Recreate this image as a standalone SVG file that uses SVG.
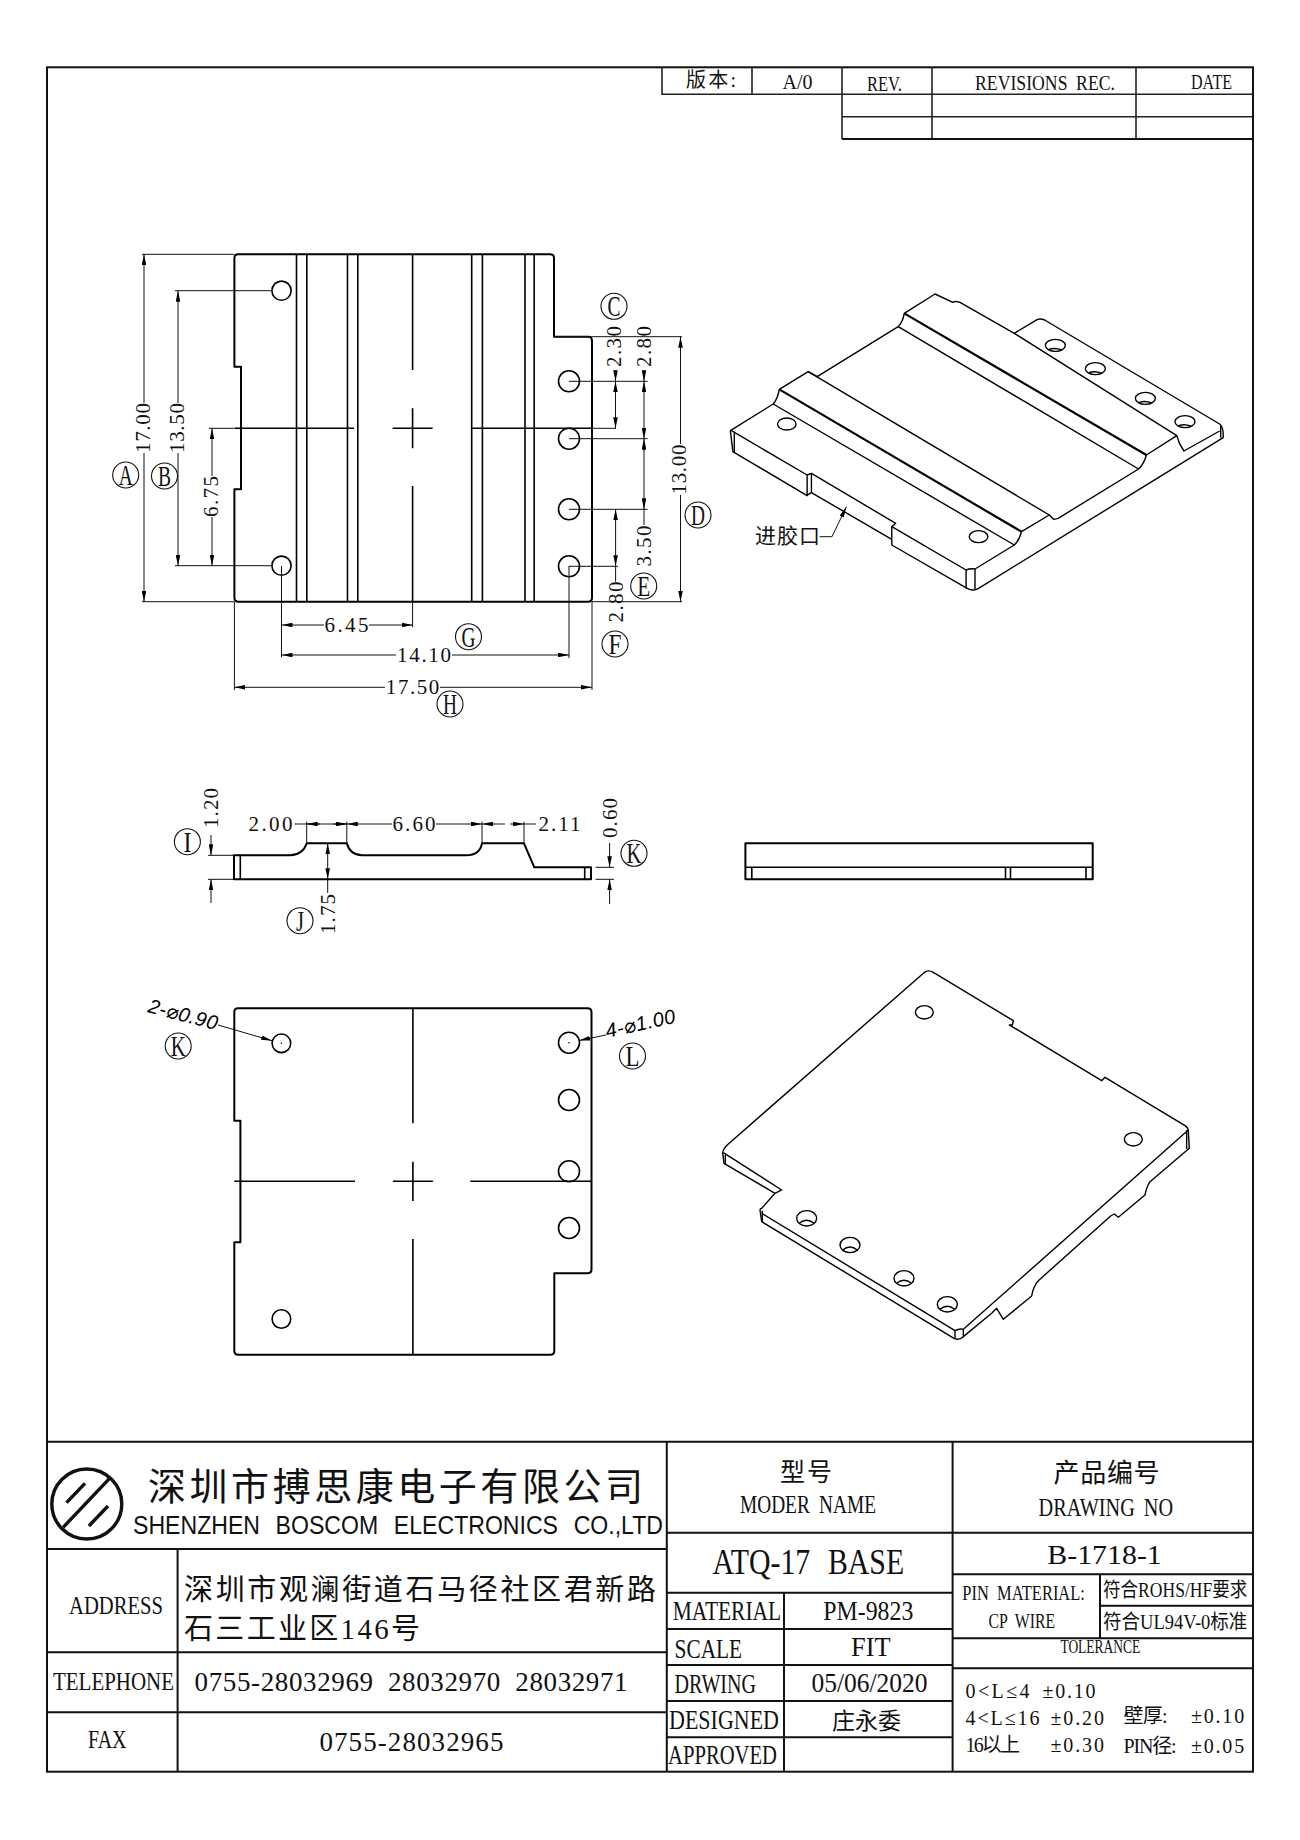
<svg xmlns="http://www.w3.org/2000/svg" width="1300" height="1840" viewBox="0 0 1300 1840">
<defs>
<marker id="ah" viewBox="0 0 11 4.6" refX="11" refY="2.3" markerWidth="11" markerHeight="4.6" markerUnits="userSpaceOnUse" orient="auto"><path d="M0 0L11 2.3L0 4.6Z" fill="#000"/></marker>
</defs>
<style>
text{font-family:"Liberation Serif","Noto Sans CJK SC",serif;fill:#111;font-size:21px}
.o{fill:none;stroke:#000;stroke-width:2;stroke-linejoin:round}
.m{fill:none;stroke:#000;stroke-width:1.6}
.d{fill:none;stroke:#111;stroke-width:1}
.a{marker-end:url(#ah)}
.i{fill:none;stroke:#000;stroke-width:1.4;stroke-linejoin:round;vector-effect:non-scaling-stroke}
.ih{fill:none;stroke:#000;stroke-width:2.2;vector-effect:non-scaling-stroke}
text.c{text-anchor:middle}
.b circle{fill:#fff;stroke:#111;stroke-width:1.1}
.b text{text-anchor:middle;font-size:29px}
.g{fill:none;stroke:#111;stroke-width:2}
.g2{fill:none;stroke:#222;stroke-width:1.6}
.sans{font-family:"Liberation Sans","Noto Sans CJK SC",sans-serif}
.ld{font-family:"Liberation Sans","DejaVu Sans",sans-serif;font-style:italic;font-size:20px;fill:#000}
</style>
<rect width="1300" height="1840" fill="#fff"/>
<rect id="border" class="g" x="47" y="67.3" width="1206" height="1704.4"/>

<g id="revision-table">
<path class="g2" d="M662 67.3V94.3H842M752 67.3V94.3M842 67.3V139M932 67.3V139M1136 67.3V139M842 94.3H1253M842 116.7H1253"/>
<path class="g" d="M842 139H1253"/>
<text x="686" y="87" style="font-size:20px" textLength="50">版本:</text>
<text x="782.5" y="89" textLength="30" lengthAdjust="spacingAndGlyphs">A/0</text>
<text x="867" y="90.7" textLength="35" lengthAdjust="spacingAndGlyphs">REV.</text>
<text x="975" y="90" style="word-spacing:5px" textLength="140" lengthAdjust="spacingAndGlyphs">REVISIONS REC.</text>
<text x="1191" y="89" textLength="41" lengthAdjust="spacingAndGlyphs">DATE</text>
</g>

<g id="top-view">
<path class="o" d="M238 254.3H550Q554 254.3 554 258V336.7H588Q592 336.7 592 341V597.7Q592 601.7 588 601.7H238.4Q234.4 601.7 234.4 597.7V489.3H241V366.7H234.4V258Q234.4 254.3 238 254.3Z"/>
<path class="m" d="M296.5 254.3V601.7M306.8 254.3V601.7M347.5 254.3V601.7M357.8 254.3V601.7M471.7 254.3V601.7M482.4 254.3V601.7M525 254.3V601.7M534.2 254.3V601.7"/>
<path class="m" d="M412.6 254.3V370M412.6 408.3V448.3M412.6 486V601.7M234.4 428.3H354M392.6 428.3H432.6M471 428.3H592"/>
<circle class="m" cx="281.5" cy="290.7" r="9.6"/>
<circle class="m" cx="281.5" cy="565.7" r="9.6"/>
<circle class="m" cx="569" cy="381.3" r="10.5"/>
<circle class="m" cx="569" cy="438.7" r="10.5"/>
<circle class="m" cx="569" cy="509.3" r="10.5"/>
<circle class="m" cx="569" cy="566.3" r="10.5"/>
</g>

<g id="connectors">
<path class="d" d="M142 254.3H234M142 601.7H234M175 290.7H272M175 565.7H272M209 428.3H234M569 381.3H647.6M569 438.7H647.6M569 509.3H647.6M569 566.3H618M592 428.3H616M554 336.7H682M592 601.7H682M281.5 566V657.3M569 566V658M412.6 601.7V627.3M234.4 601.7V690M592 601.7V690"/>
<path class="d a" d="M144 403V254.3"/><path class="d a" d="M144 453V601.7"/>
<path class="d a" d="M178 403V290.7"/><path class="d a" d="M178 453V565.7"/>
<path class="d a" d="M212 476V428.3"/><path class="d a" d="M212 517V565.7"/>
<path class="d a" d="M615.5 370V381.3"/><path class="d a" d="M615.5 405V381.3"/><path class="d a" d="M615.5 405V428.3"/>
<path class="d a" d="M644 370V381.3"/><path class="d a" d="M644 410V381.3"/><path class="d a" d="M644 410V438.7"/><path class="d a" d="M644 474V438.7"/><path class="d a" d="M644 474V509.3"/><path class="d" d="M644 509.3V525"/>
<path class="d a" d="M680.5 444V336.7"/><path class="d a" d="M680.5 495V601.7"/>
<path class="d a" d="M615.6 538V509.3"/><path class="d a" d="M615.6 538V566.3"/><path class="d" d="M615.6 566.3V581.7"/>
<path class="d a" d="M324 625H281.5"/><path class="d a" d="M369 625H412.6"/>
<path class="d a" d="M396 655H281.5"/><path class="d a" d="M452 655H569"/>
<path class="d a" d="M385 687.3H234.4"/><path class="d a" d="M440 687.3H592"/>

<path class="d" d="M208 855.3H234M208 879.3H234M595.6 867.3H614M595.6 879.3H614M306.7 821.7V843.3M346.8 821.7V843.3M482 821.7V843.3M524 821.7V843.3"/>
<path class="d a" d="M211 835V855.3"/><path class="d a" d="M211 903V879.3"/>
<path class="d" d="M294.5 824H346.8"/>
<path class="d a" d="M320 824H306.7"/><path class="d a" d="M333 824H346.8"/>
<path class="d a" d="M392 824H346.8"/><path class="d a" d="M436 824H482"/>
<path class="d a" d="M505 824H482"/><path class="d a" d="M510 824H524"/><path class="d" d="M524 824H536"/>
<path class="d a" d="M327.7 861V843.3"/><path class="d a" d="M327.7 861V879.3"/><path class="d" d="M327.7 879.3V893"/>
<path class="d a" d="M609.6 843V867.3"/><path class="d a" d="M609.6 904V879.3"/>

<path class="d a" d="M218 1025L272 1040.7"/>
<path class="d a" d="M606 1035L579 1040.5"/>
<path class="d a" d="M819.6 536.7H832L846.4 506.7"/>
</g>

<g id="dim-labels">
<text transform="translate(143 428) rotate(-90)" class="c" dy="7" textLength="50">17.00</text>
<text transform="translate(177 428) rotate(-90)" class="c" dy="7" textLength="50">13.50</text>
<text transform="translate(210.7 496.5) rotate(-90)" class="c" dy="7" textLength="41">6.75</text>
<text transform="translate(614 346.5) rotate(-90)" class="c" dy="7" textLength="41">2.30</text>
<text transform="translate(643.7 346.5) rotate(-90)" class="c" dy="7" textLength="41">2.80</text>
<text transform="translate(643.7 546) rotate(-90)" class="c" dy="7" textLength="41">3.50</text>
<text transform="translate(679 469.5) rotate(-90)" class="c" dy="7" textLength="50">13.00</text>
<text transform="translate(616 602) rotate(-90)" class="c" dy="7" textLength="41">2.80</text>
<text x="346.5" y="632" class="c" textLength="44">6.45</text>
<text x="424" y="662" class="c" textLength="54">14.10</text>
<text x="412.6" y="694" class="c" textLength="53.5">17.50</text>
<text transform="translate(211 808) rotate(-90)" class="c" dy="7" textLength="40">1.20</text>
<text x="270.5" y="831" class="c" textLength="44">2.00</text>
<text x="414" y="831" class="c" textLength="43">6.60</text>
<text x="559.5" y="831" class="c" textLength="42">2.11</text>
<text transform="translate(327.7 914) rotate(-90)" class="c" dy="7" textLength="40">1.75</text>
<text transform="translate(609.6 818) rotate(-90)" class="c" dy="7" textLength="40">0.60</text>
<text class="ld" transform="translate(147 1012) rotate(14.8)" textLength="71">2-⌀0.90</text>
<text class="ld" transform="translate(607 1038) rotate(-12.5)" textLength="71">4-⌀1.00</text>
<text x="755" y="543" style="font-size:21px" textLength="65">进胶口</text>
</g>

<g id="balloons" class="b">
<g id="bA"><circle cx="125.7" cy="475" r="13"/><text x="125.7" y="485" textLength="14" lengthAdjust="spacingAndGlyphs">A</text></g>
<g id="bB"><circle cx="164.5" cy="476" r="13"/><text x="164.5" y="486" textLength="13" lengthAdjust="spacingAndGlyphs">B</text></g>
<g id="bC"><circle cx="614" cy="306.3" r="13"/><text x="614" y="316.3" textLength="13" lengthAdjust="spacingAndGlyphs">C</text></g>
<g id="bD"><circle cx="698" cy="515" r="13"/><text x="698" y="525" textLength="14" lengthAdjust="spacingAndGlyphs">D</text></g>
<g id="bE"><circle cx="643.7" cy="586" r="13"/><text x="643.7" y="596" textLength="13" lengthAdjust="spacingAndGlyphs">E</text></g>
<g id="bF"><circle cx="615" cy="644" r="13"/><text x="615" y="654" textLength="13" lengthAdjust="spacingAndGlyphs">F</text></g>
<g id="bG"><circle cx="468.5" cy="636.7" r="13"/><text x="468.5" y="646.7" textLength="14" lengthAdjust="spacingAndGlyphs">G</text></g>
<g id="bH"><circle cx="450" cy="704" r="13"/><text x="450" y="714" textLength="14" lengthAdjust="spacingAndGlyphs">H</text></g>
<g id="bI"><circle cx="187.4" cy="841.7" r="13"/><text x="187.4" y="851.7" textLength="8" lengthAdjust="spacingAndGlyphs">I</text></g>
<g id="bJ"><circle cx="300" cy="920.7" r="13"/><text x="300" y="930.7" textLength="8" lengthAdjust="spacingAndGlyphs">J</text></g>
<g id="bK"><circle cx="634" cy="853.3" r="13"/><text x="634" y="863.3" textLength="15" lengthAdjust="spacingAndGlyphs">K</text></g>
<g id="bK2"><circle cx="178.2" cy="1046" r="13"/><text x="178.2" y="1056" textLength="15" lengthAdjust="spacingAndGlyphs">K</text></g>
<g id="bL"><circle cx="632.5" cy="1056" r="13"/><text x="632.5" y="1066" textLength="14" lengthAdjust="spacingAndGlyphs">L</text></g>
</g>

<g id="iso-top" transform="translate(700 270) scale(.35714 .33333)">
<path class="i" d="M85 482L205 402Q218 385 222 358L303 305L328 320L555 170Q568 155 572 130L658 72L708 97Q715 92 728 97L880 190L945 148Q955 145 965 150L1455 462Q1466 470 1465 503L780 955Q765 965 748 955L537 825V770L548 760L312 610L300 615V677L92 545Z"/>
<path class="i" d="M88 482L300 615M96 490V548M298 677L312 668L537 808M312 610V668M537 770L745 900V955M770 898V958M745 900Q755 895 770 897L880 825"/>
<path class="ih" d="M222 358L900 785M572 130L1250 555"/>
<path class="i" d="M303 305L978 735M205 402L880 825Q895 810 900 785L978 735L990 748L1003 745L1228 597Q1243 582 1250 555L1335 497Q1340 520 1355 543L1455 483M555 170L1228 597M880 190L1335 497M1458 468V503"/>
<ellipse class="i" cx="243" cy="462" rx="26" ry="18"/><ellipse class="i" cx="780" cy="800" rx="26" ry="18"/>
<ellipse class="i" cx="995" cy="226" rx="28" ry="18"/><ellipse class="i" cx="1107" cy="296" rx="28" ry="18"/><ellipse class="i" cx="1247" cy="385" rx="28" ry="18"/><ellipse class="i" cx="1358" cy="455" rx="28" ry="18"/>
<path class="i" d="M977 238Q995 232 1013 240M1089 308Q1107 302 1125 310M1229 397Q1247 391 1265 399M1340 467Q1358 461 1376 469"/>
</g>

<g id="side-view">
<path class="o" d="M234 855.3H290Q303 855 306.7 843.3H346.8Q350 855 362 855.3H466Q480 855 482 843.3H524L534.3 867.3H591V879.3H234Z"/>
<path class="m" d="M240.3 855.3V879.3M584.7 867.3V879.3"/>
</g>

<g id="front-view">
<rect class="o" x="745.4" y="843.3" width="347.3" height="36"/>
<path class="m" d="M745.4 867.3H1092.7M751.8 867.3V879.3M1005.5 867.3V879.3M1010.5 867.3V879.3M1086 867.3V879.3"/>
</g>

<g id="bottom-view">
<path class="o" d="M238 1008.3H587.5Q591.5 1008.3 591.5 1012V1269.3Q591.5 1273.3 587.5 1273.3H554.3V1350.7Q554.3 1354.7 550.3 1354.7H238.3Q234.3 1354.7 234.3 1350.7V1242.3H240.4V1120.7H234.3V1012Q234.3 1008.3 238 1008.3Z"/>
<path class="m" d="M412.9 1008.3V1123.3M412.9 1161.7V1201M412.9 1239V1354.7M234.3 1181.3H355M392.9 1181.3H432.9M470.4 1181.3H591.5"/>
<circle class="m" cx="281.4" cy="1043.3" r="9.3"/><circle class="m" cx="281.4" cy="1319" r="9.3"/>
<circle class="m" cx="569" cy="1042.7" r="10.5"/><circle class="m" cx="569" cy="1100" r="10.5"/><circle class="m" cx="569" cy="1171.3" r="10.5"/><circle class="m" cx="569" cy="1228" r="10.5"/>
<circle cx="281.4" cy="1043.3" r=".8"/><circle cx="569" cy="1042.7" r=".8"/>
</g>

<g id="iso-bottom" transform="translate(700 960) scale(.33333 .33333)">
<path class="i" d="M68 578Q70 565 85 552L672 38Q685 28 700 37L940 182L937 195L928 195L945 205L1205 362L1215 352L1455 497Q1466 505 1465 515L1468 565L1350 665Q1340 680 1335 705L1255 772L1243 762L1232 768L1015 962Q1000 978 995 1008L910 1078L890 1045L875 1060L790 1130Q778 1142 762 1135L185 785L180 750Q180 745 185 745L225 700L72 610Z"/>
<path class="i" d="M70 578L245 690L225 700M185 760L765 1112V1135M790 1110V1132M765 1112Q778 1105 790 1108L1465 510M76 585V614M1460 510V567M187 752V785"/>
<ellipse class="i" cx="673" cy="157" rx="27" ry="20"/><ellipse class="i" cx="1300" cy="538" rx="27" ry="20"/>
<ellipse class="i" cx="320" cy="775" rx="30" ry="23"/><ellipse class="i" cx="450" cy="855" rx="30" ry="23"/><ellipse class="i" cx="612" cy="955" rx="30" ry="23"/><ellipse class="i" cx="742" cy="1033" rx="30" ry="23"/>
<path class="i" d="M298 790Q320 772 342 790M428 870Q450 852 472 870M590 970Q612 952 634 970M720 1048Q742 1030 764 1048"/>
</g>

<g id="title-block">
<path class="g" d="M47 1441.7H1253M47 1549H666.8M47 1652.3H666.8M47 1712.3H666.8M177.6 1549V1771.7M666.8 1441.7V1771.7M952.6 1441.7V1771.7M666.8 1532.7H1253M666.8 1592.7H952.6M666.8 1629H952.6M666.8 1665H952.6M666.8 1701H952.6M666.8 1737.3H952.6M784 1592.7V1771.7M952.6 1574.3H1253M952.6 1638.3H1253M952.6 1668.3H1253M1100 1574.3V1638.3M1100 1605.7H1253"/>
<g id="logo"><circle cx="86.8" cy="1504" r="35" fill="none" stroke="#111" stroke-width="3.4"/><path d="M63.2 1527.3L109.6 1478.3M66.5 1502.7L85 1483.3M88.9 1526L108 1506" stroke="#111" stroke-width="3.4" fill="none"/></g>
<text x="148" y="1500" style="font-size:38px" textLength="495">深圳市搏思康电子有限公司</text>
<text class="sans" x="133" y="1534" style="font-size:25px;word-spacing:10px" textLength="530" lengthAdjust="spacingAndGlyphs">SHENZHEN BOSCOM ELECTRONICS CO.,LTD</text>
<text x="69" y="1614" style="font-size:26px" textLength="94" lengthAdjust="spacingAndGlyphs">ADDRESS</text>
<text x="184" y="1600" style="font-size:29px" textLength="472">深圳市观澜街道石马径社区君新路</text>
<text x="184" y="1639" style="font-size:29px" textLength="236">石三工业区146号</text>
<text x="53" y="1690" style="font-size:26px" textLength="121" lengthAdjust="spacingAndGlyphs">TELEPHONE</text>
<text x="194.6" y="1690.7" style="font-size:27px;word-spacing:7px" textLength="433">0755-28032969 28032970 28032971</text>
<text x="88" y="1748" style="font-size:26px" textLength="38.5" lengthAdjust="spacingAndGlyphs">FAX</text>
<text x="319.4" y="1750.7" style="font-size:27px" textLength="184">0755-28032965</text>

<text x="780" y="1481" style="font-size:25px" textLength="52">型号</text>
<text x="740" y="1513" style="font-size:26px;word-spacing:6px" textLength="136" lengthAdjust="spacingAndGlyphs">MODER NAME</text>
<text x="712.6" y="1574" style="font-size:35px;word-spacing:12px" textLength="191.5" lengthAdjust="spacingAndGlyphs">ATQ-17 BASE</text>
<text x="672.7" y="1620" style="font-size:27px" textLength="108.5" lengthAdjust="spacingAndGlyphs">MATERIAL</text>
<text x="823.3" y="1620" style="font-size:27px" textLength="90" lengthAdjust="spacingAndGlyphs">PM-9823</text>
<text x="674.6" y="1657.7" style="font-size:27px" textLength="67.5" lengthAdjust="spacingAndGlyphs">SCALE</text>
<text x="851" y="1656" style="font-size:27px" textLength="39.5" lengthAdjust="spacingAndGlyphs">FIT</text>
<text x="674.6" y="1692.7" style="font-size:27px" textLength="81.5" lengthAdjust="spacingAndGlyphs">DRWING</text>
<text x="811.5" y="1692" style="font-size:27px" textLength="116" lengthAdjust="spacingAndGlyphs">05/06/2020</text>
<text x="669" y="1729" style="font-size:27px" textLength="110" lengthAdjust="spacingAndGlyphs">DESIGNED</text>
<text x="832" y="1729" style="font-size:23px" textLength="69">庄永委</text>
<text x="668" y="1764" style="font-size:27px" textLength="109" lengthAdjust="spacingAndGlyphs">APPROVED</text>
<g transform="translate(1 0)">
<text x="1052.6" y="1482" style="font-size:26px" textLength="106">产品编号</text>
<text x="1037.6" y="1516" style="font-size:26px;word-spacing:5px" textLength="134.5" lengthAdjust="spacingAndGlyphs">DRAWING NO</text>
<text x="1046.3" y="1564" style="font-size:28px" textLength="114.5" lengthAdjust="spacingAndGlyphs">B-1718-1</text>
<text x="961.3" y="1600" style="font-size:20px;word-spacing:5px" textLength="122.6" lengthAdjust="spacingAndGlyphs">PIN MATERIAL:</text>
<text x="987.4" y="1627.7" style="font-size:20px;word-spacing:5px" textLength="66.8" lengthAdjust="spacingAndGlyphs">CP WIRE</text>
<text x="1102" y="1597" style="font-size:20px" textLength="144.4" lengthAdjust="spacingAndGlyphs">符合ROHS/HF要求</text>
<text x="1102" y="1629" style="font-size:20px" textLength="144.4" lengthAdjust="spacingAndGlyphs">符合UL94V-0标准</text>
<text x="1059.4" y="1653" style="font-size:18px" textLength="79.8" lengthAdjust="spacingAndGlyphs">TOLERANCE</text>
<text x="964.5" y="1698" style="font-size:20px" textLength="64">0&lt;L≤4</text>
<text x="1041.6" y="1698" style="font-size:20px" textLength="53">±0.10</text>
<text x="964.5" y="1725" style="font-size:20px" textLength="74">4&lt;L≤16</text>
<text x="1049.5" y="1725" style="font-size:20px" textLength="53.4">±0.20</text>
<text x="1122.6" y="1723" style="font-size:20px" textLength="44">壁厚:</text>
<text x="1189.9" y="1723" style="font-size:20px" textLength="53.3">±0.10</text>
<text x="964.5" y="1752" style="font-size:20px" textLength="54.5">16以上</text>
<text x="1049.5" y="1752" style="font-size:20px" textLength="53.4">±0.30</text>
<text x="1122.6" y="1753" style="font-size:20px" textLength="53">PIN径:</text>
<text x="1189.9" y="1753" style="font-size:20px" textLength="53.3">±0.05</text>
</g>
</g>
</svg>
